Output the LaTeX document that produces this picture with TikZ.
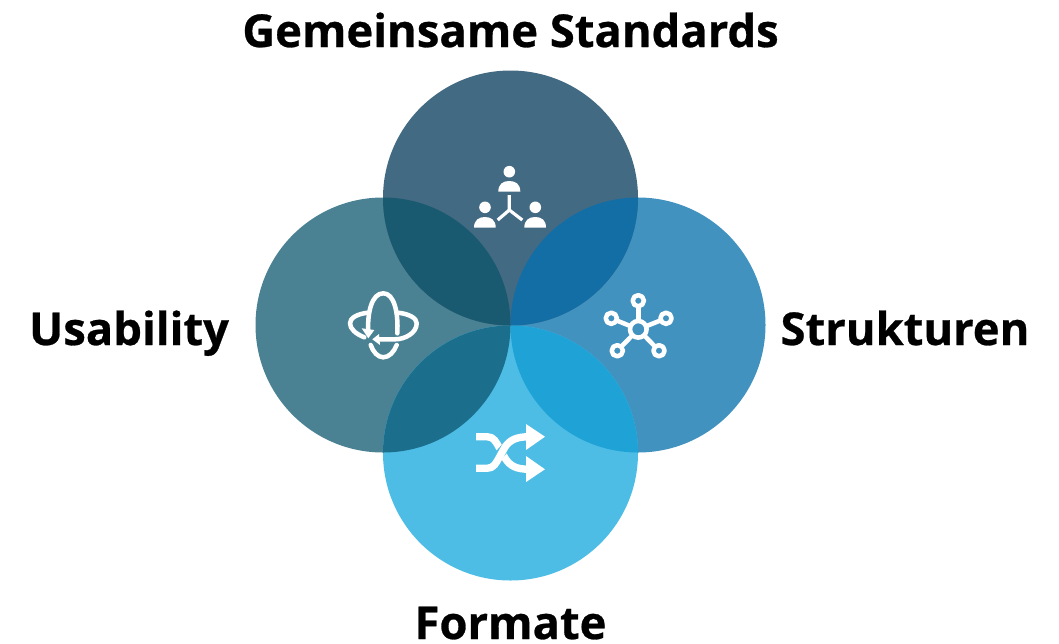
\documentclass[tikz,border=0pt]{standalone}
\usepackage{fontspec}
\setmainfont{Open Sans}[BoldFont={Open Sans Bold},BoldFeatures={FakeBold=0.6}]
\definecolor{ctop}{HTML}{436A83}
\definecolor{cleft}{HTML}{4A8294}
\definecolor{cright}{HTML}{4292C0}
\definecolor{cbot}{HTML}{4DBDE5}
\definecolor{otl}{HTML}{1A5A70}
\definecolor{otr}{HTML}{136EA5}
\definecolor{orb}{HTML}{1FA3D6}
\definecolor{olb}{HTML}{1C6F8C}
\tikzset{
  px/.style={x=0.75pt,y=-0.75pt},
  lab/.style={font=\fontsize{34}{34}\selectfont\bfseries,text=black,anchor=base,inner sep=0pt},
  ico/.style={draw=white,line width=3.4pt,line cap=round,line join=round,fill=none},
  icf/.style={fill=white,draw=none},
}
\begin{document}
\begin{tikzpicture}[px]
\useasboundingbox (0,0) rectangle (1059,643);
\def\R{127.5}
\coordinate (T) at (510.5,198);
\coordinate (L) at (383,325);
\coordinate (Rr) at (638,325);
\coordinate (B) at (510.5,453);
\fill[cleft] (L) circle (\R);
\fill[cright] (Rr) circle (\R);
\fill[cbot] (B) circle (\R);
\fill[ctop] (T) circle (\R);
\begin{scope}\clip (T) circle (\R); \fill[otl] (L) circle (\R); \end{scope}
\begin{scope}\clip (T) circle (\R); \fill[otr] (Rr) circle (\R); \end{scope}
\begin{scope}\clip (B) circle (\R); \fill[orb] (Rr) circle (\R); \end{scope}
\begin{scope}\clip (B) circle (\R); \fill[olb] (L) circle (\R); \end{scope}
% labels
\node[lab] (gs) at (510.5,47) {Gemeinsame Standards};
\node[lab] (us) at (129,345) {Usability};
\node[lab] (st) at (905,345) {Strukturen};
\node[lab] (fo) at (510.5,639) {Formate};
% people icon
\draw[ico,line width=2.4pt,line cap=butt] (509.3,195) -- (509.3,210) -- (497.7,220);
\draw[ico,line width=2.4pt,line cap=butt] (509.3,210) -- (522.3,220);
\fill[icf] (509.3,171.7) circle (5.8);
\fill[icf] (485,207.3) circle (5.8);
\fill[icf] (535.3,207.3) circle (5.8);
\fill[icf] (498.3,191.7) .. controls (498.3,184) and (503,181) .. (509.3,181) .. controls (515.6,181) and (520.3,184) .. (520.3,191.7) -- cycle;
\fill[icf] (474,227.7) .. controls (474,220) and (479,217) .. (485,217) .. controls (491,217) and (495.7,220) .. (495.7,227.7) -- cycle;
\fill[icf] (524.3,227.7) .. controls (524.3,220) and (529,217) .. (535.3,217) .. controls (541.5,217) and (546,220) .. (546,227.7) -- cycle;
% network icon
\foreach \x/\y in {638.3/300.7,611.3/318.3,666/318.3,617.3/350.7,659/350.7}{
  \draw[ico,line cap=butt] (638.3,329.3) -- (\x,\y);
  \fill[cright] (\x,\y) circle (5.5);
  \draw[ico] (\x,\y) circle (5.6);
}
\fill[cright] (638.3,329.3) circle (7.5);
\draw[ico,line width=3.4pt] (638.3,329.3) circle (8.3);
% shuffle icon
\draw[ico,line width=5.5pt,line cap=butt] (476,436.7) -- (487,436.7) .. controls (494,436.7) and (496,442) .. (500,449) -- (505,458) .. controls (510,466) and (516,469.3) .. (530,469.3);
\draw[cbot,line width=7pt] (498,456) -- (506,447);
\draw[ico,line width=5.5pt,line cap=butt] (476,468.3) -- (487,468.3) .. controls (494,468.3) and (496,463) .. (500,456) -- (505,447) .. controls (510,440) and (516,436.7) .. (530,436.7);
\fill[icf] (526,424) -- (545,436.7) -- (526,450) -- cycle;
\fill[icf] (526,456) -- (545,469.3) -- (526,482) -- cycle;
% rotation icon
\draw[ico] (368.3,333.3) .. controls (367,312) and (372,293.3) .. (383.3,293.3) .. controls (394,293.3) and (398.5,312) .. (397.3,333.3);
\draw[ico] (370.7,345) .. controls (373,352) and (378,357.3) .. (383.3,357.3) .. controls (389,357.3) and (394,352) .. (396.7,345);
\draw[ico] (367.7,312.7) .. controls (357,314) and (350,318) .. (350,323.3) .. controls (350,329) and (356,334) .. (364.3,337.3);
\draw[ico] (398.3,312.7) .. controls (409,314) and (416.7,318) .. (416.7,323.3) .. controls (416.7,333) and (405,339.3) .. (395,339.3) -- (376.7,339.3);
\fill[icf] (361.7,328.3) -- (374.3,330) -- (368.3,338.3) -- cycle;
\fill[icf] (379,334) -- (380,345) -- (372.3,339.3) -- cycle;
\end{tikzpicture}
\end{document}
